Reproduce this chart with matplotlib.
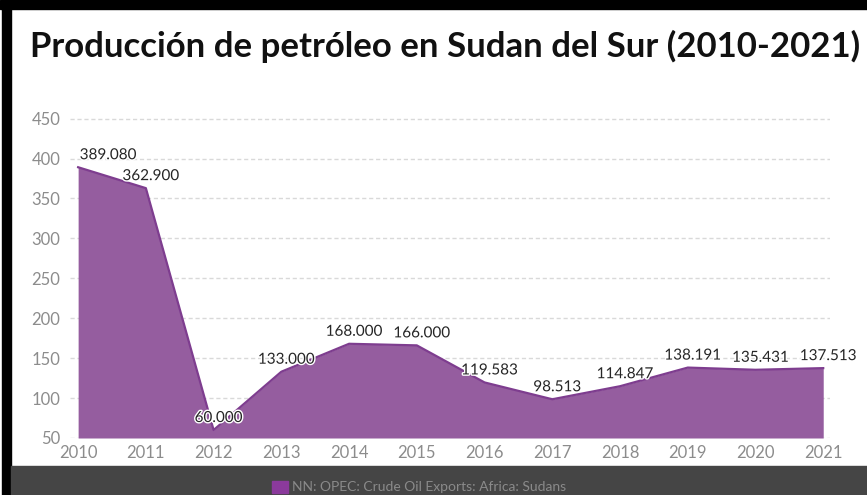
import matplotlib
matplotlib.use("Agg")
import matplotlib.pyplot as plt
import matplotlib.patheffects as pe
from matplotlib.patches import Rectangle
from matplotlib import font_manager

years = [2010, 2011, 2012, 2013, 2014, 2015, 2016, 2017, 2018, 2019, 2020, 2021]
exports = [389.080, 362.900, 60.000, 133.000, 168.000, 166.000,
           119.583, 98.513, 114.847, 138.191, 135.431, 137.513]
value_labels = ["389.080", "362.900", "60.000", "133.000", "168.000", "166.000",
                "119.583", "98.513", "114.847", "138.191", "135.431", "137.513"]
yticks = [50, 100, 150, 200, 250, 300, 350, 400, 450]

title = "Producción de petróleo en Sudan del Sur (2010-2021)"
legend_label = "NN: OPEC: Crude Oil Exports: Africa: Sudans"

installed = {f.name for f in font_manager.fontManager.ttflist}
narrow = "Liberation Sans Narrow" if "Liberation Sans Narrow" in installed else "Lato"

W, H = 867, 495
fig = plt.figure(figsize=(W / 100, H / 100), dpi=100)
fig.patch.set_facecolor("white")

# axes placed in pixel terms
left, right, bottom, top = 70, 830, 438, 117
ax = fig.add_axes([left / W, (H - bottom) / H, (right - left) / W, (bottom - top) / H])

fill_c = "#955d9f"
line_c = "#7e3d8f"
ax.fill_between(years, 50, exports, color=fill_c, lw=0, zorder=2)
ax.plot(years, exports, color=line_c, lw=1.6, zorder=3)

ax.set_xlim(2009.88, 2021.10)
ax.set_ylim(50, 452)
ax.set_yticks(yticks)
ax.set_xticks(years)
ax.grid(axis="y", color="#d9d9d9", ls=(0, (3, 2)), lw=1, zorder=1)
for s in ax.spines.values():
    s.set_visible(False)
ax.tick_params(length=0, labelsize=12, labelcolor="#8c8c8c")
for lab in ax.get_xticklabels() + ax.get_yticklabels():
    lab.set_family("Lato")
ax.tick_params(axis="x", pad=5)
ax.tick_params(axis="y", pad=7)

for i, (x, y, t) in enumerate(zip(years, exports, value_labels)):
    dx = 30 if i == 0 else 5
    ax.annotate(t, (x, y), xytext=(dx, 12), textcoords="offset pixels",
                ha="center", va="center", fontsize=11, family="Lato",
                color="#262626", zorder=5,
                path_effects=[pe.withStroke(linewidth=2, foreground="white")])

# title
ttl = fig.text(30 / W, (H - 46) / H, title, fontsize=22, fontweight="bold",
               family=narrow, color="#111111", va="center", ha="left")
fig.canvas.draw()
wpx = ttl.get_window_extent().width
ttl.set_fontsize(22 * 830 / wpx)

# frame borders and bottom legend band
fig.patches.append(Rectangle((0, 1 - 9 / H), 1, 9 / H, transform=fig.transFigure,
                             color="black", zorder=10))
fig.patches.append(Rectangle((2 / W, 0), 9 / W, 1, transform=fig.transFigure,
                             color="black", zorder=10))
fig.patches.append(Rectangle((11 / W, 0), 1, 29 / H, transform=fig.transFigure,
                             color="#454545", zorder=10))
fig.patches.append(Rectangle((272 / W, 2 / H), 16 / W, 12 / H, transform=fig.transFigure,
                             color="#8b3a9c", zorder=11))
fig.text(292 / W, 8 / H, legend_label, fontsize=10, family="Lato",
         color="#8a8a8a", va="center", ha="left", zorder=12)

fig.savefig("out.png", dpi=100)
